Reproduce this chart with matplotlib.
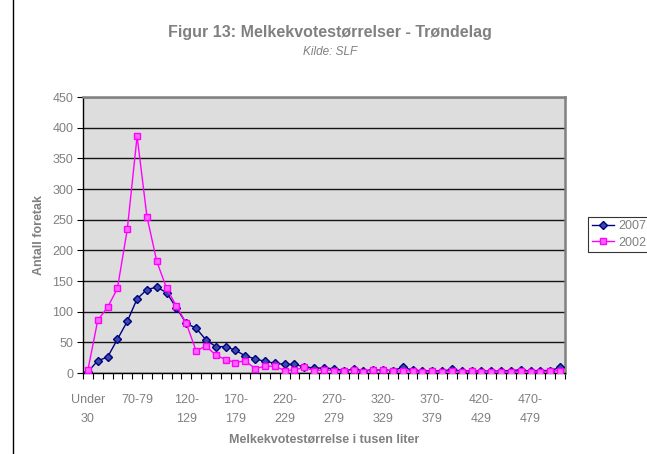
import matplotlib

matplotlib.use("Agg")
import matplotlib.pyplot as plt
from matplotlib.lines import Line2D

plt.rcParams["font.family"] = ["Liberation Sans", "DejaVu Sans"]

# category labels (thousand litres)
categories = ["Under 30"] + [f"{lo}-{lo + 9}" for lo in range(30, 500, 10)] + ["500 og over"]
tick_labels = ["Under\n30", "70-79", "120-\n129", "170-\n179", "220-\n229",
               "270-\n279", "320-\n329", "370-\n379", "420-\n429", "470-\n479"]

values_2007 = [2, 20, 26, 55, 84, 121, 136, 140, 131, 106,
               81, 73, 54, 43, 43, 37, 28, 23, 19, 16,
               14, 14, 10, 8, 8, 7, 4, 6, 4, 5,
               5, 4, 9, 5, 3, 4, 3, 6, 3, 4,
               3, 3, 3, 4, 5, 3, 4, 4, 9]
values_2002 = [5, 86, 107, 138, 234, 386, 255, 182, 138, 109,
               81, 36, 44, 29, 22, 17, 20, 7, 11, 11,
               4, 5, 9, 4, 5, 4, 3, 5, 2, 5,
               5, 4, 3, 4, 2, 3, 2, 3, 2, 4,
               2, 2, 2, 2, 3, 2, 2, 3, 4]

GRAY = "#808080"

fig = plt.figure(figsize=(6.47, 4.54), dpi=100)
ax = fig.add_axes([83 / 647, 81 / 454, 482 / 647, 276 / 454])
ax.set_facecolor("#dddddd")

x = list(range(len(categories)))
ax.plot(x, values_2007, color="#000080", lw=1.0, marker="D", markersize=4.0,
        markerfacecolor="#3a4aa8", markeredgecolor="#000080", label="2007", zorder=3)
ax.plot(x, values_2002, color="#ff00ff", lw=1.0, marker="s", markersize=5,
        markerfacecolor="#ff66ff", markeredgecolor="#ff00ff", label="2002", zorder=4)

ax.set_ylim(0, 450)
ax.set_yticks(range(0, 451, 50))
ax.set_xlim(-0.5, len(categories) - 0.5)
ax.set_xticks(range(0, len(categories), 5), tick_labels)
ax.set_xticks([i - 0.5 for i in range(len(categories) + 1)], minor=True)
ax.tick_params(axis="x", which="major", length=0, pad=15, labelsize=9, labelcolor=GRAY)
ax.tick_params(axis="x", which="minor", length=4, width=0.8, color="black")
ax.tick_params(axis="y", length=4, width=0.8, color="black", labelsize=9, labelcolor=GRAY, pad=3)
for lab in ax.get_xticklabels():
    lab.set_linespacing(1.75)

ax.grid(axis="y", color="#151515", lw=1.0)
ax.set_axisbelow(True)
for side in ("left", "bottom"):
    ax.spines[side].set_color("black")
    ax.spines[side].set_linewidth(1.0)
for side in ("top", "right"):
    ax.spines[side].set_color(GRAY)
    ax.spines[side].set_linewidth(1.8)

ax.set_xlabel("Melkekvotestørrelse i tusen liter", fontsize=9, fontweight="bold", color=GRAY, labelpad=7)
ax.set_ylabel("Antall foretak", fontsize=9, fontweight="bold", color=GRAY, labelpad=5)

fig.text(330 / 647, 1 - 33 / 454, "Figur 13: Melkekvotestørrelser - Trøndelag",
         ha="center", va="center", fontsize=11.5, fontweight="bold", color=GRAY)
fig.text(330 / 647, 1 - 52 / 454, "Kilde: SLF", ha="center", va="center",
         fontsize=8.5, style="italic", color=GRAY)

leg = fig.legend(loc="center", bbox_to_anchor=(619 / 647, 1 - 234.5 / 454), fontsize=9,
                 frameon=True, fancybox=False, edgecolor="black", handlelength=1.8,
                 handletextpad=0.3, borderpad=0.3, labelspacing=0.35, borderaxespad=0)
leg.get_frame().set_linewidth(0.8)
for t in leg.get_texts():
    t.set_color(GRAY)

fig.add_artist(Line2D([12.5 / 647, 12.5 / 647], [0, 1], transform=fig.transFigure,
                      color="black", lw=1.0))

fig.savefig("out.png", dpi=100)
plt.close(fig)
